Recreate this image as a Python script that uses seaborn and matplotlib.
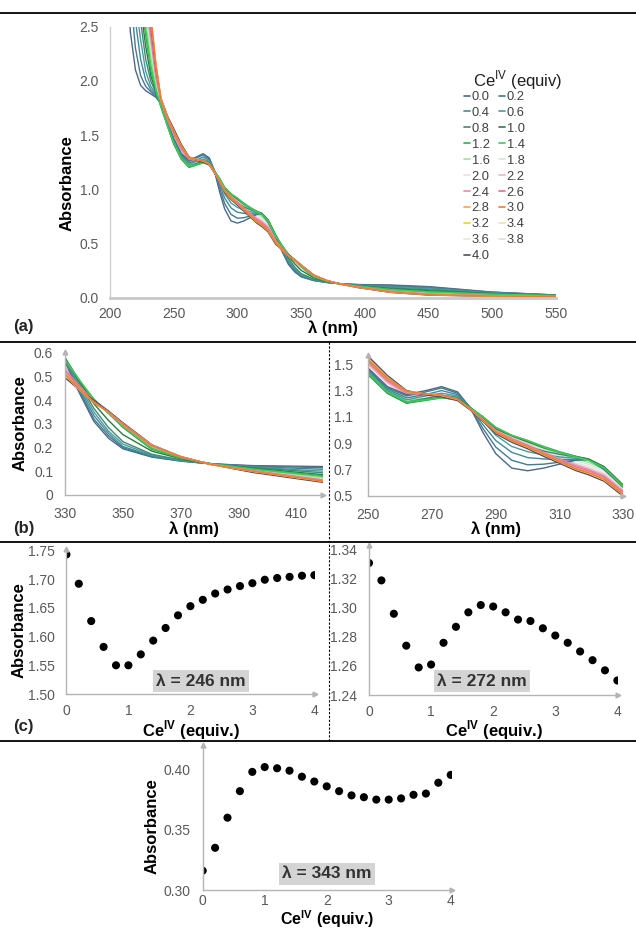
import numpy as np
import pandas as pd
import matplotlib
matplotlib.use("Agg")
import matplotlib.pyplot as plt
import seaborn as sns
from matplotlib.lines import Line2D

sns.set_theme(style="white")
plt.rcParams['font.family'] = ['Liberation Sans', 'DejaVu Sans']
plt.rcParams['mathtext.fontset'] = 'custom'
plt.rcParams['mathtext.rm'] = 'Liberation Sans'
plt.rcParams['mathtext.bf'] = 'Liberation Sans:bold'

# ---------------- data ----------------
wavelength = [212, 216, 220, 224, 228, 232, 236, 240, 245, 250,
              256, 262, 268, 273, 278, 282, 286, 290, 295, 300, 305, 310, 315, 319, 324, 330,
              335, 340, 345, 350, 360, 370, 380,
              395, 420, 450, 500, 550]

equiv_labels = ["0.0", "0.2", "0.4", "0.6", "0.8", "1.0", "1.2", "1.4", "1.6", "1.8", "2.0",
                "2.2", "2.4", "2.6", "2.8", "3.0", "3.2", "3.4", "3.6", "3.8", "4.0"]

a00 = [3.2, 2.45, 2.1, 1.96, 1.91, 1.88, 1.85, 1.79, 1.63, 1.47,
       1.33, 1.27, 1.30, 1.33, 1.29, 1.17, 0.98, 0.82, 0.71, 0.69, 0.71, 0.74, 0.77, 0.78, 0.70, 0.565,
       0.43, 0.31, 0.24, 0.195, 0.16, 0.143, 0.132,
       0.124, 0.12, 0.105, 0.055, 0.028]
a02 = [3.6, 2.8, 2.3, 2.05, 1.95, 1.90, 1.86, 1.79, 1.625, 1.46,
       1.32, 1.26, 1.29, 1.32, 1.28, 1.17, 1.01, 0.87, 0.77, 0.735, 0.74, 0.755, 0.77, 0.775, 0.70, 0.565,
       0.44, 0.32, 0.25, 0.20, 0.162, 0.144, 0.132,
       0.122, 0.115, 0.10, 0.053, 0.027]
a04 = [3.9, 3.05, 2.55, 2.2, 2.01, 1.92, 1.87, 1.79, 1.62, 1.45,
       1.31, 1.245, 1.27, 1.30, 1.27, 1.17, 1.04, 0.92, 0.83, 0.79, 0.78, 0.775, 0.775, 0.775, 0.71, 0.57,
       0.45, 0.335, 0.26, 0.205, 0.165, 0.145, 0.132,
       0.12, 0.108, 0.093, 0.05, 0.026]
a06 = [4.1, 3.3, 2.75, 2.38, 2.09, 1.95, 1.88, 1.79, 1.61, 1.44,
       1.30, 1.23, 1.26, 1.28, 1.26, 1.17, 1.07, 0.96, 0.875, 0.835, 0.81, 0.795, 0.785, 0.78, 0.715, 0.575,
       0.46, 0.35, 0.27, 0.215, 0.168, 0.146, 0.132,
       0.118, 0.10, 0.085, 0.047, 0.025]
a08 = [4.3, 3.5, 2.95, 2.55, 2.2, 2.0, 1.89, 1.78, 1.60, 1.43,
       1.29, 1.215, 1.24, 1.265, 1.25, 1.17, 1.09, 0.99, 0.92, 0.875, 0.84, 0.815, 0.795, 0.78, 0.72, 0.58,
       0.47, 0.365, 0.285, 0.225, 0.172, 0.148, 0.132,
       0.116, 0.093, 0.076, 0.044, 0.024]
a10 = [4.5, 3.7, 3.1, 2.68, 2.32, 2.05, 1.9, 1.77, 1.59, 1.42,
       1.28, 1.205, 1.23, 1.25, 1.24, 1.17, 1.10, 1.01, 0.955, 0.91, 0.865, 0.83, 0.80, 0.78, 0.72, 0.58,
       0.48, 0.385, 0.315, 0.255, 0.185, 0.153, 0.133,
       0.113, 0.085, 0.067, 0.04, 0.023]
a12 = [4.6, 3.8, 3.2, 2.78, 2.42, 2.1, 1.91, 1.76, 1.59, 1.42,
       1.28, 1.205, 1.225, 1.245, 1.235, 1.17, 1.10, 1.02, 0.96, 0.92, 0.875, 0.835, 0.80, 0.775, 0.715, 0.575,
       0.485, 0.40, 0.345, 0.285, 0.192, 0.156, 0.133,
       0.111, 0.08, 0.06, 0.037, 0.022]
a14 = [4.7, 3.9, 3.3, 2.85, 2.48, 2.15, 1.92, 1.76, 1.59, 1.43,
       1.29, 1.215, 1.23, 1.245, 1.23, 1.165, 1.10, 1.02, 0.96, 0.92, 0.87, 0.83, 0.795, 0.77, 0.71, 0.57,
       0.485, 0.405, 0.345, 0.29, 0.198, 0.157, 0.133,
       0.109, 0.077, 0.056, 0.035, 0.022]
a16 = [4.8, 4.0, 3.4, 2.95, 2.56, 2.22, 1.95, 1.77, 1.60, 1.45,
       1.31, 1.23, 1.24, 1.25, 1.23, 1.16, 1.09, 1.015, 0.955, 0.91, 0.86, 0.82, 0.78, 0.755, 0.70, 0.56,
       0.48, 0.405, 0.345, 0.29, 0.20, 0.158, 0.132,
       0.107, 0.072, 0.05, 0.03, 0.02]
a18 = [4.9, 4.1, 3.5, 3.02, 2.62, 2.28, 1.98, 1.78, 1.61, 1.47,
       1.33, 1.245, 1.25, 1.255, 1.23, 1.16, 1.09, 1.01, 0.95, 0.90, 0.85, 0.805, 0.765, 0.74, 0.685, 0.55,
       0.475, 0.40, 0.345, 0.29, 0.202, 0.159, 0.132,
       0.106, 0.068, 0.046, 0.027, 0.018]
a20 = [5.0, 4.2, 3.55, 3.08, 2.67, 2.32, 2.0, 1.79, 1.62, 1.49,
       1.35, 1.26, 1.26, 1.26, 1.235, 1.16, 1.085, 1.005, 0.945, 0.895, 0.84, 0.795, 0.75, 0.725, 0.67, 0.545,
       0.47, 0.40, 0.346, 0.292, 0.204, 0.16, 0.131,
       0.105, 0.066, 0.042, 0.025, 0.016]
a22 = [5.0, 4.2, 3.6, 3.12, 2.71, 2.36, 2.02, 1.80, 1.63, 1.50,
       1.36, 1.27, 1.265, 1.265, 1.235, 1.16, 1.08, 1.0, 0.94, 0.89, 0.835, 0.785, 0.74, 0.71, 0.66, 0.54,
       0.465, 0.398, 0.347, 0.294, 0.205, 0.16, 0.131,
       0.104, 0.064, 0.04, 0.023, 0.015]
a24 = [5.0, 4.25, 3.65, 3.15, 2.74, 2.40, 2.04, 1.81, 1.64, 1.51,
       1.37, 1.28, 1.27, 1.265, 1.235, 1.16, 1.08, 0.995, 0.935, 0.885, 0.83, 0.78, 0.73, 0.70, 0.65, 0.53,
       0.46, 0.396, 0.348, 0.296, 0.206, 0.161, 0.131,
       0.103, 0.062, 0.037, 0.021, 0.014]
a26 = [5.0, 4.3, 3.7, 3.18, 2.77, 2.45, 2.07, 1.82, 1.65, 1.52,
       1.38, 1.285, 1.27, 1.265, 1.235, 1.16, 1.075, 0.99, 0.93, 0.88, 0.825, 0.77, 0.72, 0.69, 0.64, 0.525,
       0.455, 0.394, 0.349, 0.298, 0.207, 0.161, 0.131,
       0.102, 0.06, 0.035, 0.02, 0.013]
a28 = [5.0, 4.3, 3.72, 3.2, 2.85, 2.6, 2.15, 1.83, 1.66, 1.53,
       1.39, 1.29, 1.275, 1.265, 1.235, 1.16, 1.075, 0.99, 0.925, 0.875, 0.82, 0.765, 0.71, 0.68, 0.63, 0.515,
       0.45, 0.392, 0.35, 0.30, 0.208, 0.162, 0.13,
       0.101, 0.058, 0.033, 0.019, 0.012]
a30 = [5.0, 4.3, 3.72, 3.2, 2.85, 2.6, 2.15, 1.83, 1.665, 1.535,
       1.395, 1.295, 1.275, 1.265, 1.235, 1.16, 1.075, 0.985, 0.92, 0.87, 0.815, 0.76, 0.705, 0.675, 0.625, 0.51,
       0.445, 0.39, 0.35, 0.30, 0.209, 0.162, 0.13,
       0.10, 0.057, 0.032, 0.018, 0.012]
a32 = [5.0, 4.3, 3.72, 3.2, 2.85, 2.6, 2.15, 1.835, 1.67, 1.54,
       1.40, 1.295, 1.275, 1.262, 1.232, 1.158, 1.073, 0.983, 0.918, 0.868, 0.812, 0.757, 0.702, 0.672, 0.62, 0.508,
       0.443, 0.389, 0.35, 0.30, 0.21, 0.162, 0.13,
       0.099, 0.056, 0.031, 0.017, 0.011]
a34 = [5.0, 4.3, 3.72, 3.2, 2.85, 2.6, 2.15, 1.835, 1.67, 1.545,
       1.405, 1.30, 1.275, 1.26, 1.23, 1.157, 1.072, 0.98, 0.915, 0.865, 0.81, 0.755, 0.70, 0.67, 0.618, 0.505,
       0.44, 0.388, 0.35, 0.301, 0.21, 0.162, 0.13,
       0.098, 0.055, 0.03, 0.017, 0.011]
a36 = [5.0, 4.3, 3.72, 3.2, 2.85, 2.6, 2.15, 1.84, 1.675, 1.55,
       1.41, 1.30, 1.272, 1.257, 1.228, 1.155, 1.07, 0.978, 0.912, 0.862, 0.806, 0.752, 0.697, 0.667, 0.615, 0.503,
       0.438, 0.387, 0.351, 0.302, 0.211, 0.162, 0.13,
       0.097, 0.054, 0.029, 0.016, 0.011]
a38 = [5.0, 4.3, 3.72, 3.2, 2.85, 2.6, 2.15, 1.84, 1.675, 1.55,
       1.41, 1.30, 1.27, 1.255, 1.226, 1.154, 1.068, 0.975, 0.91, 0.86, 0.803, 0.75, 0.695, 0.664, 0.612, 0.50,
       0.435, 0.386, 0.352, 0.303, 0.211, 0.162, 0.13,
       0.096, 0.053, 0.028, 0.016, 0.01]
a40 = [5.0, 4.3, 3.72, 3.2, 2.82, 2.55, 2.12, 1.84, 1.68, 1.56,
       1.415, 1.30, 1.268, 1.252, 1.224, 1.152, 1.066, 0.972, 0.907, 0.857, 0.80, 0.747, 0.692, 0.66, 0.61, 0.495,
       0.445, 0.40, 0.355, 0.305, 0.212, 0.162, 0.13,
       0.095, 0.052, 0.027, 0.015, 0.01]

series_colors = ['#4a6a85', '#46788e', '#3f8a98', '#4a9ba0', '#3d8c6e', '#2d7a45', '#2fae4a',
                 '#45c85a', '#9ee0a0', '#cfeccf', '#f3dce5', '#ebb3c6', '#e88aa5', '#e0708a',
                 '#f5a05a', '#ee7a3a', '#e6cf34', '#efe3a0', '#ece7cc', '#e2e2d8', '#5e4a63']

# order in which the spectra are stacked (pale ones underneath, orange ones on top)
draw_order = ["1.8", "2.0", "3.4", "3.6", "3.8", "1.6", "2.2",
              "0.0", "0.2", "0.4", "0.6", "0.8", "1.0", "1.2", "1.4",
              "2.4", "2.6", "4.0", "3.2", "2.8", "3.0"]

# titration data (c) and bottom panel
ce_equiv = [0.0, 0.2, 0.4, 0.6, 0.8, 1.0, 1.2, 1.4, 1.6, 1.8, 2.0,
            2.2, 2.4, 2.6, 2.8, 3.0, 3.2, 3.4, 3.6, 3.8, 4.0]
abs_246 = [1.743, 1.692, 1.627, 1.582, 1.550, 1.550, 1.569, 1.593, 1.615, 1.637, 1.653,
           1.664, 1.675, 1.682, 1.688, 1.693, 1.699, 1.702, 1.704, 1.706, 1.707]
abs_272 = [1.331, 1.319, 1.296, 1.274, 1.259, 1.261, 1.276, 1.287, 1.297, 1.302, 1.301,
           1.297, 1.292, 1.291, 1.286, 1.281, 1.276, 1.270, 1.264, 1.257, 1.250]
abs_343 = [0.316, 0.335, 0.360, 0.382, 0.398, 0.402, 0.401, 0.399, 0.394, 0.390, 0.386,
           0.382, 0.3785, 0.377, 0.375, 0.375, 0.376, 0.379, 0.380, 0.389, 0.3955]

all_series = [a00, a02, a04, a06, a08, a10, a12, a14, a16, a18, a20,
              a22, a24, a26, a28, a30, a32, a34, a36, a38, a40]

rows = []
for lab, vals in zip(equiv_labels, all_series):
    for w, v in zip(wavelength, vals):
        rows.append((lab, w, v))
spec = pd.DataFrame(rows, columns=["equiv", "wl", "A"])
titr = pd.DataFrame({"x": ce_equiv, "a246": abs_246, "a272": abs_272, "a343": abs_343})
palette = dict(zip(equiv_labels, series_colors))

# ---------------- layout helpers ----------------
W, H = 636, 931
fig = plt.figure(figsize=(W / 100, H / 100), dpi=100)
fig.patch.set_facecolor('white')

def rect(l, t, r, b):
    return [l / W, 1 - b / H, (r - l) / W, (b - t) / H]

TICK_C = '#595959'
AX_C = '#b4b4b4'
TICK_FS = 10
LAB_FS = 12

def style_axes(ax, arrows=True, xpad=8, ypad=8):
    sns.despine(ax=ax)
    for s in ['left', 'bottom']:
        ax.spines[s].set_color(AX_C)
        ax.spines[s].set_linewidth(1.0)
    ax.tick_params(length=0, labelsize=TICK_FS, labelcolor=TICK_C)
    ax.tick_params(axis='x', pad=xpad)
    ax.tick_params(axis='y', pad=ypad)
    ax.set_facecolor('none')
    ax.grid(False)
    if arrows:
        ax.plot([1], [0], marker='>', ms=3.5, color=AX_C, transform=ax.transAxes, clip_on=False)
        ax.plot([0], [1], marker='^', ms=3.5, color=AX_C, transform=ax.transAxes, clip_on=False)

def ylab(ax, text, px, rect_px, cy=None):
    l, t, r, b = rect_px
    ax.set_ylabel(text, fontsize=LAB_FS, fontweight='bold', color='black')
    yc = 0.5 if cy is None else (b - cy) / (b - t)
    ax.yaxis.set_label_coords((px - l) / (r - l), yc)
    ax.yaxis.label.set_va('center')
    ax.yaxis.label.set_ha('center')

def xlab(ax, text, py, rect_px, fs=LAB_FS):
    l, t, r, b = rect_px
    ax.set_xlabel(text, fontsize=fs, fontweight='bold', color='black')
    ax.xaxis.set_label_coords(0.5, (b - py) / (b - t))
    ax.xaxis.label.set_va('center')

def spectra(ax):
    sns.lineplot(data=spec, x="wl", y="A", hue="equiv", hue_order=draw_order,
                 palette=palette, ax=ax, legend=False, lw=1.0,
                 estimator=None, sort=False)

# ---------------- panel (a) ----------------
ra = (110, 26.7, 556, 298)
ax_a = fig.add_axes(rect(*ra))
spectra(ax_a)
ax_a.set_xlim(200, 550)
ax_a.set_ylim(0, 2.5)
ax_a.set_xticks(np.arange(200, 551, 50))
ax_a.set_yticks(np.arange(0, 2.51, 0.5))
ax_a.set_yticklabels([f"{v:.1f}" for v in np.arange(0, 2.51, 0.5)])
style_axes(ax_a, arrows=False, xpad=6.5, ypad=8)
ax_a.spines['bottom'].set_linewidth(2.0)
ax_a.spines['bottom'].set_color('#c8c8c8')
ax_a.spines['left'].set_color('#d0d0d0')
ylab(ax_a, "Absorbance", 67, ra, cy=183)
xlab(ax_a, r"λ (nm)", 328, ra)

handles = [Line2D([0], [0], color=c, lw=1.2) for c in series_colors]
order = list(range(0, 21, 2)) + list(range(1, 21, 2))
leg = ax_a.legend([handles[i] for i in order], [equiv_labels[i] for i in order],
                  ncol=2, loc='upper left', bbox_to_anchor=(464 / W, 1 - 91 / H),
                  bbox_transform=fig.transFigure, frameon=False, fontsize=9.3,
                  handlelength=0.45, handletextpad=0.15, columnspacing=0.7,
                  labelspacing=0.3, borderpad=0, borderaxespad=0)
for t in leg.get_texts():
    t.set_color('#404040')
fig.text(518 / W, 1 - 80 / H, r"Ce$^{\mathrm{IV}}$ (equiv)", ha='center', va='center',
         fontsize=12, color='#202020')

# ---------------- panel (b) ----------------
rbl = (65, 351.7, 323, 495)
ax_bl = fig.add_axes(rect(*rbl))
spectra(ax_bl)
ax_bl.set_xlim(330, 419.1)
ax_bl.set_ylim(0, 0.605)
ax_bl.set_xticks([330, 350, 370, 390, 410])
ax_bl.set_yticks([0, 0.1, 0.2, 0.3, 0.4, 0.5, 0.6])
ax_bl.set_yticklabels(["0", "0.1", "0.2", "0.3", "0.4", "0.5", "0.6"])
style_axes(ax_bl, xpad=8.5, ypad=8.5)
ylab(ax_bl, "Absorbance", 20, rbl, cy=423)
xlab(ax_bl, r"λ (nm)", 529, rbl)

rbr = (368.3, 355, 623.3, 495.7)
ax_br = fig.add_axes(rect(*rbr))
spectra(ax_br)
ax_br.set_xlim(250, 330)
ax_br.set_ylim(0.5, 1.571)
ax_br.set_xticks([250, 270, 290, 310, 330])
ax_br.set_yticks([0.5, 0.7, 0.9, 1.1, 1.3, 1.5])
ax_br.set_yticklabels(["0.5", "0.7", "0.9", "1.1", "1.3", "1.5"])
style_axes(ax_br, xpad=8.5, ypad=11)
xlab(ax_br, r"λ (nm)", 529, rbr)
ax_br.set_ylabel("")

# ---------------- panel (c) ----------------
def titration(ax, col):
    sns.scatterplot(data=titr, x="x", y=col, ax=ax, color='black', s=34,
                    edgecolor='none', legend=False)

rcl = (66.4, 549.3, 315, 694)
ax_cl = fig.add_axes(rect(*rcl))
titration(ax_cl, "a246")
ax_cl.set_xlim(0, 4.01)
ax_cl.set_ylim(1.50, 1.752)
ax_cl.set_xticks([0, 1, 2, 3, 4])
ax_cl.set_yticks([1.50, 1.55, 1.60, 1.65, 1.70, 1.75])
ax_cl.set_yticklabels(["1.50", "1.55", "1.60", "1.65", "1.70", "1.75"])
style_axes(ax_cl, xpad=7, ypad=8.5)
ylab(ax_cl, "Absorbance", 19, rcl, cy=630)
xlab(ax_cl, r"Ce$^{\mathbf{IV}}$ (equiv.)", 730, rcl)

rcr = (369, 545, 618, 695)
ax_cr = fig.add_axes(rect(*rcr))
titration(ax_cr, "a272")
ax_cr.set_xlim(0, 4.01)
ax_cr.set_ylim(1.24, 1.3434)
ax_cr.set_xticks([0, 1, 2, 3, 4])
ax_cr.set_yticks([1.24, 1.26, 1.28, 1.30, 1.32, 1.34])
ax_cr.set_yticklabels(["1.24", "1.26", "1.28", "1.30", "1.32", "1.34"])
style_axes(ax_cr, xpad=7, ypad=8.5)
xlab(ax_cr, r"Ce$^{\mathbf{IV}}$ (equiv.)", 730, rcr)
ax_cr.set_ylabel("")

rd = (202.7, 745, 451.7, 890)
ax_d = fig.add_axes(rect(*rd))
titration(ax_d, "a343")
ax_d.set_xlim(0, 4.016)
ax_d.set_ylim(0.30, 0.4203)
ax_d.set_xticks([0, 1, 2, 3, 4])
ax_d.set_yticks([0.30, 0.35, 0.40])
ax_d.set_yticklabels(["0.30", "0.35", "0.40"])
style_axes(ax_d, xpad=3, ypad=8.5)
ylab(ax_d, "Absorbance", 152, rd, cy=826)
xlab(ax_d, r"Ce$^{\mathbf{IV}}$ (equiv.)", 919.5, rd, fs=11.5)

box = dict(boxstyle='square,pad=0.2', fc='#d4d4d4', ec='none')
fig.text(201 / W, 1 - 681 / H, "λ = 246 nm", ha='center', va='center', fontsize=12.5,
         fontweight='bold', color='#333333', bbox=box)
fig.text(482 / W, 1 - 681 / H, "λ = 272 nm", ha='center', va='center', fontsize=12.5,
         fontweight='bold', color='#333333', bbox=box)
fig.text(327 / W, 1 - 874 / H, "λ = 343 nm", ha='center', va='center', fontsize=12.5,
         fontweight='bold', color='#333333', bbox=box)

# ---------------- panel letters & rules ----------------
for lab, y in [("(a)", 327), ("(b)", 529), ("(c)", 727)]:
    fig.text(13 / W, 1 - y / H, lab, ha='left', va='center', fontsize=12, fontweight='bold')

for y in [13, 341.7, 541.7, 740.5]:
    fig.add_artist(Line2D([0, 1], [1 - y / H, 1 - y / H], color='black', lw=1.3,
                          transform=fig.transFigure))
fig.add_artist(Line2D([328.5 / W, 328.5 / W], [1 - 341.7 / H, 1 - 740.5 / H], color='black',
                      lw=0.8, ls=(0, (2, 1.5)), transform=fig.transFigure))

fig.savefig("out.png", dpi=100, facecolor='white')
